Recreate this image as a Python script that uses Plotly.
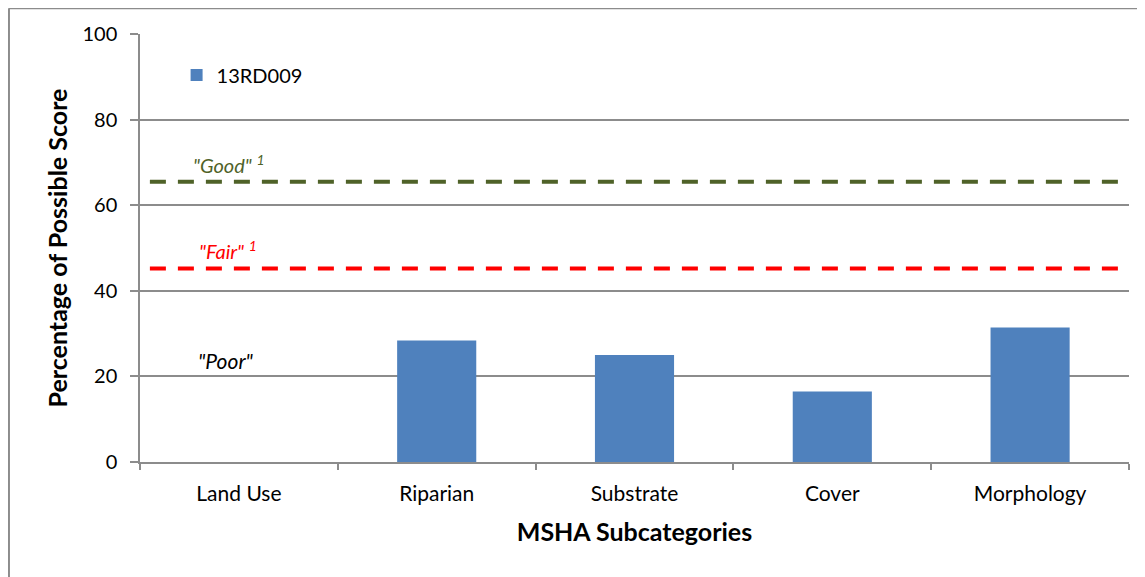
import plotly.graph_objects as go

# données
categories = ["Land Use", "Riparian", "Substrate", "Cover", "Morphology"]
scores = [0, 28.4, 25.0, 16.5, 31.4]
serie = "13RD009"

seuil_good = 65.5
seuil_fair = 45.2
y_ticks = [0, 20, 40, 60, 80, 100]

police = "Lato"
gris = "#8c8c8c"

fig = go.Figure()

# barres
fig.add_trace(go.Bar(
    x=categories,
    y=scores,
    name=serie,
    showlegend=True,
    marker=dict(color="#4f81bd", line=dict(width=0)),
    width=0.4,
))

# seuils (lignes pointillées)
for seuil, couleur in [(seuil_good, "#4f6228"), (seuil_fair, "#ff0000")]:
    fig.add_shape(type="line", xref="x", yref="y",
                  x0=-0.45, x1=4.45, y0=seuil, y1=seuil,
                  line=dict(color=couleur, width=4, dash="16px,12px"))

# étiquettes
fig.add_annotation(x=-0.24, y=69.6, text='<i>"Good" <sup>1</sup></i>',
                   showarrow=False, xanchor="left",
                   font=dict(family=police, size=20, color="#4f6228"))
fig.add_annotation(x=-0.21, y=49.5, text='<i>"Fair" <sup>1</sup></i>',
                   showarrow=False, xanchor="left",
                   font=dict(family=police, size=20, color="#ff0000"))
fig.add_annotation(x=-0.215, y=23.8, text='<i>"Poor"</i>',
                   showarrow=False, xanchor="left",
                   font=dict(family=police, size=21, color="#000000"))

# cadre extérieur
fig.add_shape(type="line", xref="paper", yref="paper",
              x0=-0.1325, x1=1.1, y0=1.06, y1=1.06,
              line=dict(color=gris, width=2))
fig.add_shape(type="line", xref="paper", yref="paper",
              x0=-0.1325, x1=-0.1325, y0=1.06, y1=-0.4,
              line=dict(color=gris, width=2))

fig.update_layout(
    width=1137,
    height=569,
    margin=dict(l=132, r=16, t=26, b=115),
    plot_bgcolor="white",
    paper_bgcolor="white",
    font=dict(family=police, size=20, color="#000000"),
    bargap=0.6,
    showlegend=True,
    legend=dict(x=0.037, y=0.904, xanchor="left", yanchor="middle",
                bgcolor="rgba(0,0,0,0)", font=dict(size=20)),
    xaxis=dict(
        title=dict(text="<b>MSHA Subcategories</b>", standoff=20,
                   font=dict(size=25)),
        tickson="boundaries",
        ticks="outside", ticklen=6, tickcolor=gris, tickwidth=1.5,
        ticklabelstandoff=12,
        showline=True, linecolor=gris, linewidth=1.5,
        range=[-0.5, 4.5],
        tickfont=dict(size=21),
    ),
    yaxis=dict(
        title=dict(text="<b>Percentage of Possible Score</b>", standoff=8,
                   font=dict(size=25)),
        range=[0, 100],
        tickvals=y_ticks,
        ticks="outside", ticklen=8, tickcolor=gris, tickwidth=1.5,
        ticklabelstandoff=9,
        showline=True, linecolor=gris, linewidth=1.5,
        showgrid=True, gridcolor=gris, gridwidth=1.5,
        zeroline=False,
        tickfont=dict(size=20),
    ),
)

fig.write_html("out.html")
